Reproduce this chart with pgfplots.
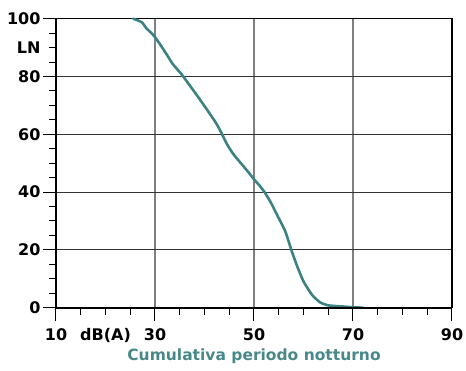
\documentclass[border=0pt]{standalone}
\usepackage{fontspec}
\setmainfont{DejaVu Sans}
\usepackage{pgfplots}
\pgfplotsset{compat=1.18}

\definecolor{curveteal}{RGB}{60,130,130}
\definecolor{titleteal}{RGB}{72,136,136}

\begin{document}
\begin{tikzpicture}
\path[use as bounding box] (-56pt,-63.3pt) rectangle (410pt,307.7pt);
\begin{axis}[
  at={(0,0)}, anchor=south west,
  scale only axis,
  width=396pt, height=289pt,
  xmin=10, xmax=90, ymin=0, ymax=100,
  xtick={10,30,50,70,90},
  xticklabels={10,30,50,70,90},
  ytick={0,20,40,60,80,100},
  yticklabels={0,20,40,60,80,100},
  extra x ticks={20},
  extra x tick labels={dB(A)},
  extra y ticks={90},
  extra y tick labels={LN},
  extra tick style={grid=none, major tick length=7pt},
  extra x tick style={xticklabel style={yshift=-6pt}},
  extra y tick style={yticklabel style={xshift=-6pt}},
  minor x tick num=3,
  minor y tick num=3,
  tick align=outside,
  xtick pos=left, ytick pos=left,
  major tick length=13pt,
  minor tick length=7pt,
  tick style={black, line width=1pt},
  grid=major,
  major x grid style={color=black!50, line width=1.3pt},
  major y grid style={color=black!80, line width=0.9pt},
  axis line style={black, line width=1.1pt},
  ticklabel style={font=\bfseries\fontsize{16}{18}\selectfont},
  xticklabel style={text height=11.5pt, text depth=3pt, yshift=-5pt},
  yticklabel style={xshift=1pt},
  xlabel={Cumulativa periodo notturno},
  xlabel style={at={(axis description cs:0.5,0)}, anchor=base, yshift=-53pt,
    font=\bfseries\fontsize{15.5}{17}\selectfont, text=titleteal},
  clip=false,
]
\addplot[curveteal, line width=2.6pt, line join=round, line cap=round,
  smooth, tension=0.35] coordinates {
  (25.6,100) (27.3,98.8) (28.3,96.6) (29.3,95.0) (30.0,93.6) (31.0,91.2)
  (32.3,87.8) (33.6,84.3) (35.3,80.9) (36.3,78.6) (38.3,73.9) (40.4,68.8)
  (42.4,63.7) (43.5,60.2) (44.5,56.7) (45.8,53.2) (47.5,49.7) (49.2,46.2)
  (50.0,44.4) (51.2,42.1) (52.2,39.8) (53.4,36.4) (54.6,32.3) (56.3,26.5)
  (57.6,19.7) (58.6,14.9) (60.0,9.1) (61.7,4.5) (63.3,1.9) (65.0,0.8)
  (68.0,0.4) (70.0,0.15) (72.0,0)
};
\draw[black, line width=2.2pt] (rel axis cs:0,0) -- (rel axis cs:1,0);
\end{axis}
\end{tikzpicture}
\end{document}
